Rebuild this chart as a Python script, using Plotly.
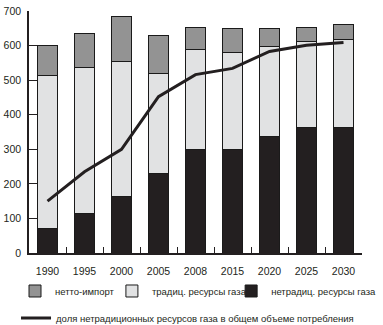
import plotly.graph_objects as go

years = ["1990", "1995", "2000", "2005", "2008", "2015", "2020", "2025", "2030"]
nontrad = [72, 113, 163, 229, 300, 298, 338, 364, 364]
trad = [441, 424, 390, 290, 290, 282, 260, 248, 254]
net_import = [87, 98, 130, 109, 62, 70, 52, 41, 43]
share_line = [150, 235, 300, 452, 516, 534, 583, 601, 609]

FONT = "Liberation Sans, Arial, sans-serif"
INK = "#231f20"
edge = dict(color="#1a1a1a", width=1)

fig = go.Figure()
fig.add_trace(go.Bar(x=years, y=nontrad, name="нетрадиц. ресурсы газа", legend="legend3",
                     marker=dict(color=INK, line=edge)))
fig.add_trace(go.Bar(x=years, y=trad, name="традиц. ресурсы газа", legend="legend2",
                     marker=dict(color="#e1e2e3", line=edge)))
fig.add_trace(go.Bar(x=years, y=net_import, name="нетто-импорт", legend="legend",
                     marker=dict(color="#939393", line=edge)))
fig.add_trace(go.Scatter(x=years, y=share_line, mode="lines", legend="legend4",
                         name="доля нетрадиционных ресурсов газа в общем объеме потребления",
                         line=dict(color=INK, width=3)))

def leg(x, y):
    return dict(orientation="h", x=x, xanchor="left", y=y, yanchor="middle",
                font=dict(size=9.5, color=INK), itemwidth=30, bgcolor="rgba(0,0,0,0)")

fig.update_layout(
    width=383, height=325,
    margin=dict(l=29, r=21, t=11, b=72, autoexpand=False),
    barmode="stack", bargap=0.46,
    plot_bgcolor="white", paper_bgcolor="white",
    font=dict(family=FONT, size=10, color=INK),
    showlegend=True,
    legend=leg(-0.042, -0.157),
    legend2=leg(0.249, -0.157),
    legend3=leg(0.607, -0.157),
    legend4=leg(-0.039, -0.269),
    xaxis=dict(type="category", showline=True, linecolor=INK, linewidth=1.5,
               ticks="inside", tickson="boundaries", ticklen=6, tickcolor=INK,
               showgrid=False, tickangle=0, tickfont=dict(size=10.5),
               ticklabelstandoff=8),
    yaxis=dict(range=[0, 700], dtick=100, showline=True, linecolor=INK, linewidth=1.5,
               ticks="inside", ticklen=8, tickcolor=INK, showgrid=False,
               zeroline=False, tickfont=dict(size=10.5), ticklabelstandoff=4),
)

fig.write_html("out.html")
